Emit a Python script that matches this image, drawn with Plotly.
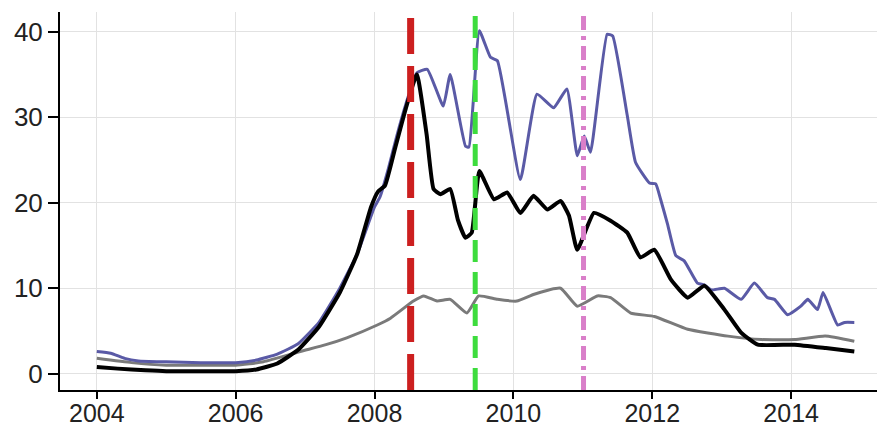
import plotly.graph_objects as go

# ---- data ----
blue_x = [2004.0, 2004.2, 2004.4, 2004.6, 2005.0, 2005.5, 2006.0, 2006.3, 2006.6, 2006.9,
          2007.2, 2007.5, 2007.75, 2008.0, 2008.08, 2008.2, 2008.32, 2008.45, 2008.61, 2008.76,
          2008.99, 2009.09, 2009.31, 2009.36, 2009.51, 2009.67, 2009.77, 2010.1, 2010.34, 2010.58,
          2010.77, 2010.92, 2011.02, 2011.11, 2011.35, 2011.43, 2011.64, 2011.76, 2011.96, 2012.05,
          2012.12, 2012.22, 2012.34, 2012.46, 2012.65, 2012.75, 2012.85, 2013.04, 2013.28, 2013.47,
          2013.66, 2013.76, 2013.95, 2014.14, 2014.24, 2014.38, 2014.46, 2014.67, 2014.77, 2014.91]
blue_y = [2.6, 2.4, 1.8, 1.5, 1.4, 1.3, 1.3, 1.6, 2.3, 3.5,
          6.0, 10.0, 14.0, 19.5, 20.7, 24.0, 27.8, 31.5, 35.2, 35.6,
          31.3, 35.0, 26.6, 26.5, 40.1, 37.0, 36.6, 22.7, 32.7, 31.1,
          33.3, 25.5, 27.8, 25.9, 39.7, 39.5, 30.2, 24.7, 22.3, 22.2,
          20.4, 17.5, 13.8, 13.2, 10.6, 10.4, 9.8, 10.0, 8.7, 10.6,
          8.9, 8.7, 6.9, 7.9, 8.7, 7.5, 9.5, 5.7, 6.0, 6.0]

black_x = [2004.0, 2004.3, 2004.7, 2005.0, 2005.5, 2006.0, 2006.3, 2006.6, 2006.9, 2007.2,
           2007.5, 2007.75, 2007.95, 2008.05, 2008.15, 2008.3, 2008.45, 2008.61, 2008.75, 2008.85,
           2008.95, 2009.09, 2009.2, 2009.31, 2009.4, 2009.51, 2009.72, 2009.91, 2010.1, 2010.29,
           2010.49, 2010.68, 2010.8, 2010.92, 2011.16, 2011.4, 2011.64, 2011.83, 2012.03, 2012.27,
           2012.51, 2012.75, 2013.04, 2013.28, 2013.52, 2014.05, 2014.5, 2014.91]
black_y = [0.8, 0.6, 0.4, 0.3, 0.3, 0.3, 0.5, 1.2, 2.8, 5.5,
           9.5, 14.0, 19.5, 21.3, 22.0, 26.5, 31.0, 35.0, 28.0, 21.6,
           21.0, 21.6, 18.0, 15.9, 16.5, 23.7, 20.4, 21.2, 18.8, 20.8,
           19.2, 20.2, 18.5, 14.5, 18.8, 17.9, 16.5, 13.6, 14.5, 11.0,
           8.9, 10.3, 7.5, 4.8, 3.4, 3.4, 3.0, 2.6]

gray_x = [2004.0, 2004.5, 2005.0, 2005.5, 2006.0, 2006.4, 2006.93, 2007.3, 2007.6, 2008.04,
          2008.23, 2008.56, 2008.71, 2008.9, 2009.09, 2009.33, 2009.5, 2009.77, 2010.05, 2010.3,
          2010.68, 2010.92, 2011.21, 2011.4, 2011.69, 2012.03, 2012.51, 2013.09, 2013.57, 2014.05,
          2014.49, 2014.91]
gray_y = [1.8, 1.3, 1.0, 1.0, 1.0, 1.4, 2.6, 3.4, 4.2, 5.7,
          6.5, 8.5, 9.1, 8.5, 8.7, 7.1, 9.1, 8.7, 8.5, 9.3,
          10.0, 7.9, 9.1, 8.9, 7.1, 6.7, 5.2, 4.4, 4.0, 4.0,
          4.4, 3.8]

event_dates = [2008.52, 2009.45, 2011.01]
event_colors = ["#cc1f1f", "#3ddc3d", "#d97fc9"]
event_dashes = ["36px,12px", "22px,10px", "14px,6px,4px,6px"]
event_widths = [7, 5, 5]

x_ticks = [2004, 2006, 2008, 2010, 2012, 2014]
y_ticks = [0, 10, 20, 30, 40]

fig = go.Figure()

for xv, c, d, w in zip(event_dates, event_colors, event_dashes, event_widths):
    fig.add_shape(type="line", xref="x", yref="paper", x0=xv, x1=xv, y0=0, y1=1,
                  line=dict(color=c, width=w, dash=d), layer="above")

fig.add_trace(go.Scatter(x=gray_x, y=gray_y, mode="lines",
                         line=dict(color="#7a7a7a", width=3, shape="spline", smoothing=0.4),
                         showlegend=False))
fig.add_trace(go.Scatter(x=blue_x, y=blue_y, mode="lines",
                         line=dict(color="#5a5aa6", width=3, shape="spline", smoothing=0.4),
                         showlegend=False))
fig.add_trace(go.Scatter(x=black_x, y=black_y, mode="lines",
                         line=dict(color="#000000", width=4, shape="spline", smoothing=0.4),
                         showlegend=False))

# page body adds an 8px margin, so the figure is sized to the window minus that offset
fig.update_layout(
    width=877, height=420,
    margin=dict(l=52, r=5, t=4, b=38),
    paper_bgcolor="white", plot_bgcolor="white",
    font=dict(family="Liberation Sans, Arial, sans-serif", size=26, color="#222"),
)
fig.update_xaxes(range=[2003.47, 2015.28], tickvals=x_ticks, ticktext=[str(v) for v in x_ticks],
                 automargin=False, ticklabelstandoff=-7, tickfont=dict(size=25),
                 showgrid=True, gridcolor="#e2e2e2", gridwidth=1, zeroline=False,
                 showline=True, linecolor="black", linewidth=2,
                 ticks="outside", ticklen=7, tickcolor="black", tickwidth=1.5)
fig.update_yaxes(range=[-1.9, 42.3], tickvals=y_ticks, automargin=False,
                 showgrid=True, gridcolor="#e2e2e2", gridwidth=1, zeroline=False,
                 showline=True, linecolor="black", linewidth=2,
                 ticks="outside", ticklen=10, tickcolor="black", tickwidth=1.5)

fig.write_html("out.html")
